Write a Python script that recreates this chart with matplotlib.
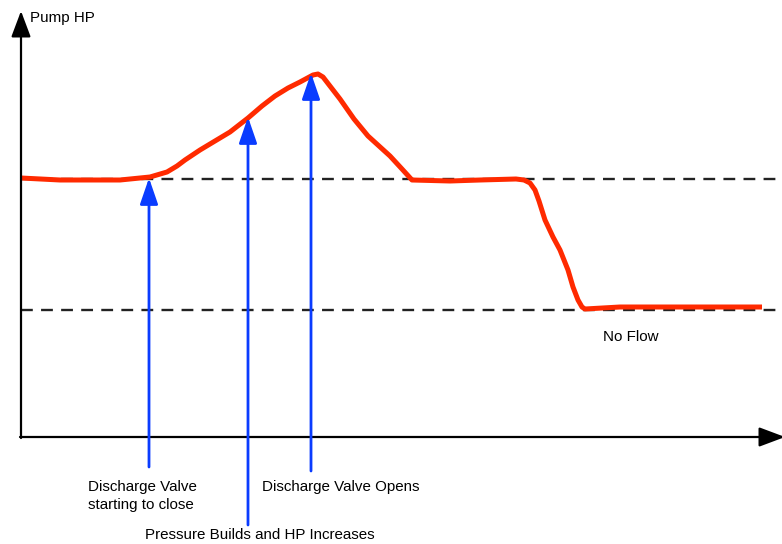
import matplotlib
matplotlib.use("Agg")
import matplotlib.pyplot as plt

# Pump HP curve (arbitrary units)
time = [0, 39, 99, 129, 146, 156, 164, 179, 194, 209, 227, 241, 254, 267, 279, 292, 297, 302,
        319, 333, 347, 358, 369, 381, 391, 429, 459, 495, 503, 509, 514, 518, 524, 532, 539,
        547, 552, 557, 561, 564, 599, 741]
hp = [259, 257, 257, 260, 265, 271, 277, 287, 296, 305, 319, 331, 341, 349, 355, 362, 363, 360,
      338, 318, 301, 291, 281, 268, 257, 256, 257, 258, 257, 254, 247, 236, 217, 200, 187,
      167, 150, 137, 130, 128, 130, 130]

ref_levels = [258, 127]
event_x = [128, 227, 290]
event_tip = [259, 320, 364]
event_base = [-30, -88, -34]
event_labels = ["Discharge Valve\nstarting to close", "Pressure Builds and HP Increases",
                "Discharge Valve Opens"]

plt.rcParams['font.family'] = ['Liberation Sans', 'DejaVu Sans']
fig = plt.figure(figsize=(7.82, 5.44), dpi=100)
ax = fig.add_axes([0, 0, 1, 1])
ax.set_xlim(-21, 761)
ax.set_ylim(-107, 437)
ax.axis('off')

for lvl in ref_levels:
    ax.plot([0, 775], [lvl, lvl], color='#222222', lw=1.7, dashes=(5, 3.5), zorder=1, clip_on=False)

ax.plot(time, hp, color='#ff2a00', lw=3.6, solid_capstyle='butt', solid_joinstyle='round', zorder=3)

# axes arrows
ax.annotate('', xy=(0, 426), xytext=(0, -1), annotation_clip=False,
            arrowprops=dict(arrowstyle='-|>,head_length=1.6,head_width=0.6',
                            color='black', lw=1.6, shrinkA=0, shrinkB=0))
ax.annotate('', xy=(764, 0), xytext=(-1, 0), annotation_clip=False,
            arrowprops=dict(arrowstyle='-|>,head_length=1.6,head_width=0.6',
                            color='black', lw=1.6, shrinkA=0, shrinkB=0))

for x, tip, base in zip(event_x, event_tip, event_base):
    ax.annotate('', xy=(x, tip), xytext=(x, base), annotation_clip=False,
                arrowprops=dict(arrowstyle='-|>,head_length=1.6,head_width=0.55',
                                color='#0a3cff', lw=2.0, shrinkA=0, shrinkB=0), zorder=4)

fs = 10.9
ax.text(9, 419, "Pump HP", fontsize=fs, va='center', ha='left')
ax.text(582, 100, "No Flow", fontsize=fs, va='center', ha='left')
ax.text(67, -59, event_labels[0], fontsize=fs, va='center', ha='left', linespacing=1.35)
ax.text(124, -98, event_labels[1], fontsize=fs, va='center', ha='left')
ax.text(241, -50, event_labels[2], fontsize=fs, va='center', ha='left')

fig.savefig("out.png", dpi=100)
